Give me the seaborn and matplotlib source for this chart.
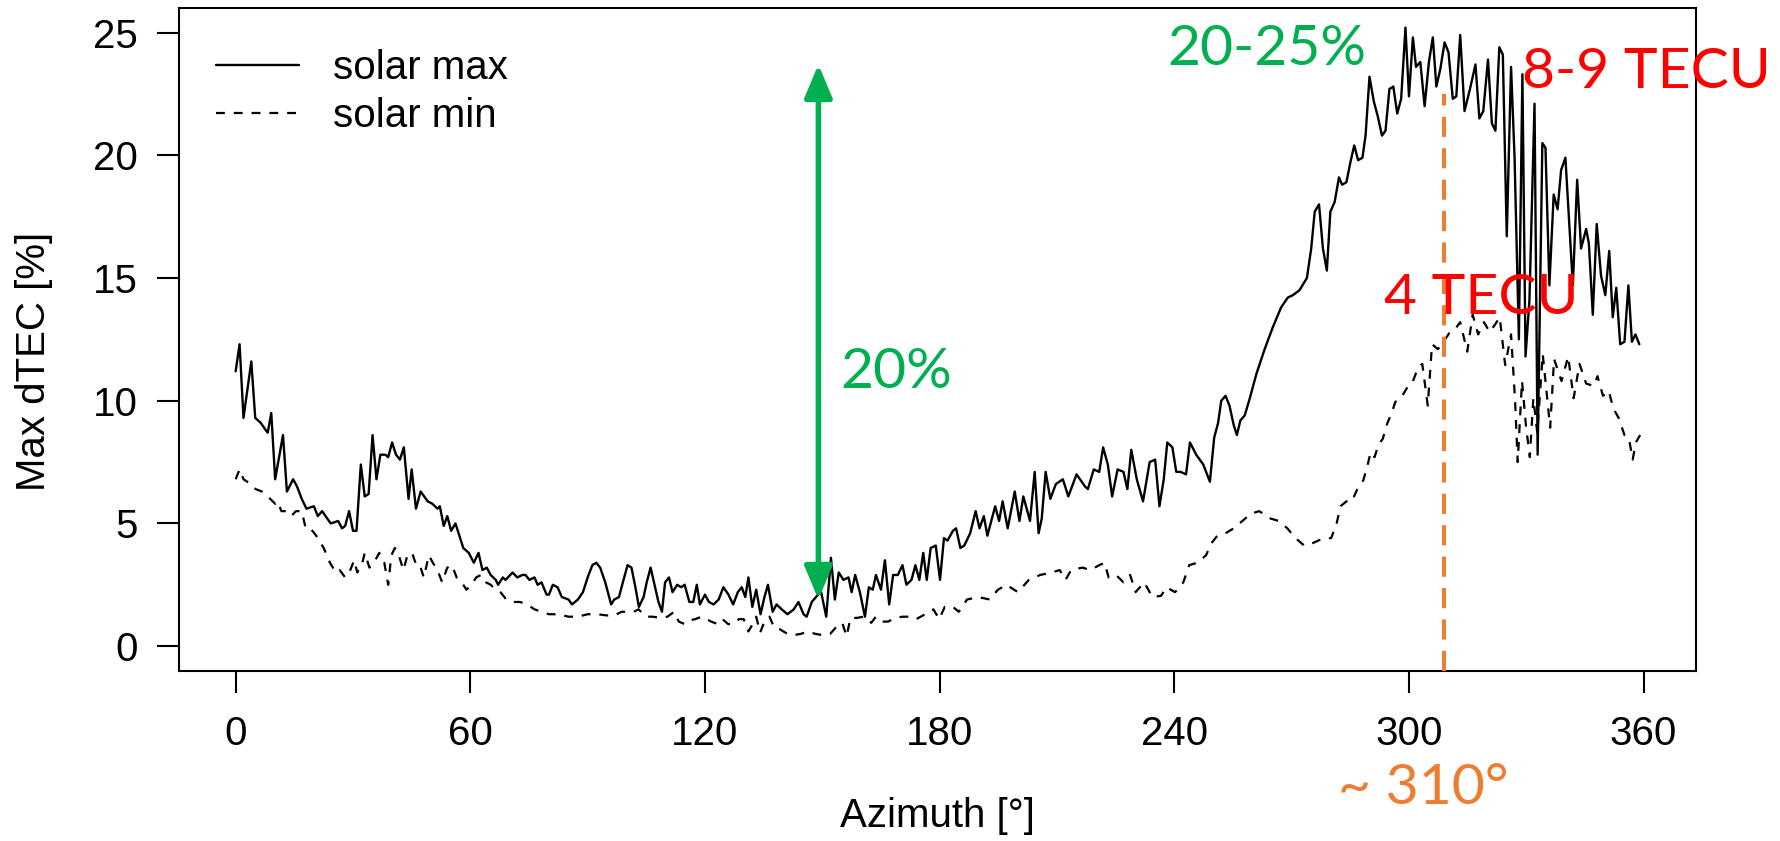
import matplotlib
matplotlib.use("Agg")
import matplotlib.pyplot as plt
import seaborn as sns

# values (azimuth in degrees, max dTEC in %)
azimuth_max = [0, 1, 2, 4, 5, 6.4, 7.7, 8.2, 9.1, 10.1, 12.1, 13.1, 14.7, 15.7, 16.9, 18.1, 20, 21, 22.1, 24.3,
               26.2, 27.2, 28, 29, 30, 30.9, 32, 33, 34, 35, 36, 37, 38.3, 39, 40, 41, 42, 43, 44.2, 45,
               46.1, 47.3, 49.1, 50.3, 51.6, 52.2, 53.2, 54.1, 55.1, 56.2, 58.2, 59.6, 60.9, 62.1, 63.1, 64.2, 65.2, 66.5, 67.1, 68.3,
               69, 70.8, 72, 73.3, 74.1, 75.1, 76.4, 77.2, 78.2, 79.5, 80.1, 81.1, 82.3, 83.4, 85.1, 86, 87.5, 88.8, 90, 91.2,
               92.2, 93.2, 94.5, 96, 96.8, 98, 99, 100.2, 101.2, 102.2, 103.1, 104.3, 105.1, 106.1, 107.1, 108.1, 109, 109.8, 110.8, 111.7,
               112.9, 113.9, 114.8, 116, 117, 117.9, 118.7, 120, 121, 122.2, 123.5, 124.7, 126, 127.2, 128.4, 129.4, 130.3, 131.1, 132.1, 133.1,
               134.2, 135.2, 136.1, 137.3, 138.3, 139.6, 141.1, 142.7, 143.9, 145.2, 146, 147.3, 148.9, 149.7, 151, 152.2, 153.2, 154.2, 155.4, 156.7,
               157.5, 158.4, 159.6, 160.9, 161.9, 162.9, 163.7, 165, 166, 167.1, 168.1, 169.3, 170.5, 171.5, 172.8, 173.8, 174.8, 175.8, 176.7, 177.7,
               179, 180.1, 181.1, 182, 183.4, 184.2, 185.3, 186.3, 187.8, 189.2, 190.2, 191.3, 192.2, 194.2, 195.2, 196.1, 197.4, 199.2, 200.4, 201.4,
               203.1, 204.3, 205.3, 206.1, 207.1, 208.3, 209.7, 211.5, 212.9, 215, 217.2, 217.9, 219.4, 220.8, 221.8, 223, 224.1, 225.5, 227, 228,
               229, 230.4, 232, 233.7, 235.1, 236.2, 237.3, 238.2, 239.5, 240.5, 241.6, 243, 244, 245.6, 247.4, 249.1, 250.2, 251.2, 252, 253.1,
               254.1, 255.2, 256, 256.9, 258, 259.3, 261, 263.1, 265.2, 267.3, 269, 270.3, 272, 273.9, 275, 275.9, 277, 278, 279, 279.9,
               281, 282.1, 282.9, 284, 285, 286, 287, 288.1, 288.9, 289.9, 291, 292, 293.1, 294, 295, 296, 297, 298, 299.1, 300,
               301, 301.8, 302.9, 304, 305.1, 306.1, 307, 308, 309.1, 310.1, 311.2, 312.1, 313.1, 314.2, 315.6, 317, 318, 319, 320.2, 321.2,
               322.1, 323.1, 324, 325, 326.1, 327, 328.1, 329, 329.8, 330.8, 332.1, 332.9, 334.1, 334.9, 335.9, 337, 338, 338.9, 340, 341.9,
               343, 344, 345.3, 346, 347, 348, 349.1, 350.2, 351.2, 352.1, 353, 354, 355.1, 356.1, 357, 357.9, 358.9]
dtec_max = [11.2, 12.3, 9.3, 11.6, 9.3, 9.1, 8.8, 8.7, 9.5, 6.8, 8.6, 6.3, 6.8, 6.5, 6.0, 5.6, 5.7, 5.3, 5.5, 5.0,
            5.1, 4.8, 4.9, 5.5, 4.7, 4.7, 7.4, 6.1, 6.2, 8.6, 6.8, 7.8, 7.8, 7.7, 8.3, 7.8, 7.6, 8.1, 6.0, 7.2,
            5.6, 6.3, 5.9, 5.8, 5.6, 5.7, 4.9, 5.3, 4.7, 5.0, 4.0, 3.8, 3.4, 3.8, 3.1, 3.2, 2.9, 2.7, 2.5, 2.8,
            2.7, 3.0, 2.8, 2.9, 2.9, 2.7, 2.8, 2.5, 2.6, 2.1, 2.1, 2.5, 2.4, 2.0, 1.9, 1.7, 1.9, 2.2, 2.8, 3.3,
            3.4, 3.2, 2.6, 1.7, 1.9, 2.0, 2.6, 3.3, 3.2, 2.4, 1.6, 2.0, 2.6, 3.2, 2.5, 1.8, 1.4, 2.6, 2.8, 2.2,
            2.5, 2.4, 2.5, 1.8, 1.8, 2.5, 1.7, 2.1, 1.8, 1.7, 1.9, 2.4, 2.1, 1.7, 2.2, 2.4, 2.0, 2.8, 1.6, 2.3,
            1.3, 2.0, 2.5, 1.4, 1.7, 1.5, 1.3, 1.5, 1.8, 1.3, 1.2, 1.8, 2.1, 2.2, 1.2, 3.6, 1.9, 3.0, 2.7, 2.8,
            2.2, 2.9, 2.2, 1.2, 2.4, 2.3, 2.9, 2.3, 3.5, 1.7, 2.9, 2.9, 3.3, 2.5, 2.7, 3.3, 2.7, 3.8, 2.7, 4.0,
            4.1, 2.7, 4.4, 4.3, 4.7, 4.8, 4.0, 4.1, 4.6, 5.5, 4.8, 5.3, 4.5, 5.7, 5.1, 5.9, 4.8, 6.3, 5.1, 6.1,
            5.1, 7.1, 4.6, 5.2, 7.1, 6.0, 6.6, 6.8, 6.1, 7.0, 6.5, 6.4, 7.2, 7.1, 8.1, 7.4, 6.1, 7.2, 7.1, 6.4,
            8.0, 6.8, 5.9, 7.5, 7.6, 5.7, 6.8, 8.3, 8.1, 7.1, 7.1, 7.0, 8.3, 7.8, 7.4, 6.7, 8.5, 9.1, 10.0, 10.2,
            9.8, 9.0, 8.6, 9.2, 9.4, 10.1, 11.1, 12.1, 13.0, 13.8, 14.2, 14.3, 14.5, 15.0, 16.2, 17.7, 18.0, 16.2, 15.3, 17.7,
            18.1, 19.1, 18.8, 18.9, 19.7, 20.4, 19.8, 19.9, 20.8, 23.2, 22.2, 21.6, 20.8, 21.0, 22.7, 22.8, 21.7, 22.3, 25.2, 22.4,
            24.8, 23.6, 23.8, 22.0, 23.8, 24.8, 22.8, 23.5, 24.6, 24.2, 22.3, 22.4, 24.9, 21.8, 22.7, 23.7, 21.5, 21.8, 23.9, 21.3,
            21.0, 24.4, 24.1, 16.7, 23.6, 19.9, 12.5, 23.3, 11.8, 14.1, 22.1, 7.8, 20.5, 20.3, 14.7, 18.4, 17.8, 19.4, 19.9, 14.7,
            19.0, 16.2, 17.0, 16.4, 13.5, 17.2, 15.1, 14.3, 16.1, 13.4, 14.6, 12.3, 12.4, 14.7, 12.4, 12.7, 12.3]

azimuth_min = [0, 1, 2, 3.9, 5.1, 6.7, 8.2, 10.1, 10.7, 11.7, 12.9, 14.2, 15.4, 16.9, 17.9, 19.1, 20.6, 22.5, 24.1, 25.6,
               26.6, 28, 29.3, 30.3, 31.1, 32.4, 33, 34.2, 35.7, 36.7, 38, 39, 39.8, 40.7, 41.7, 42.9, 43.9, 45.1, 46.4, 47.3,
               48.1, 49.4, 50.4, 51.6, 52.8, 54.1, 55.3, 56.5, 57.8, 59, 60.3, 61.5, 62.7, 64, 65.2, 66.5, 67.7, 69.2, 70.8, 72.7,
               74.5, 76.4, 78.2, 80.1, 82.6, 85.1, 87.5, 90, 92.5, 95, 96.8, 98.7, 99.9, 101.8, 103, 104.9, 106.7, 108.6, 110.4, 112.1,
               113.3, 114.8, 116, 117.5, 119.1, 120.4, 121.6, 123.2, 124.5, 125.9, 127.2, 128.7, 129.9, 131.1, 132.4, 133.1, 134.1, 135.2, 136.5, 137.7,
               139, 141.1, 142.7, 144.5, 146.4, 148.2, 150.1, 152, 153.4, 155.1, 156.2, 157.2, 158.8, 160.6, 162.5, 163.7, 165.3, 166.8, 168.7, 170.5,
               172.7, 174, 176.3, 178.4, 179.9, 181.3, 183.4, 184.9, 187, 189.9, 192.8, 194.9, 197.1, 200, 202.8, 205.7, 208.6, 210.7, 212.2, 213.6,
               216.5, 218.6, 220.8, 222.2, 223.2, 225.1, 227, 228.7, 230.1, 232.3, 234.4, 236.6, 238, 240.2, 242.3, 243.8, 245.9, 248.1, 249.5, 251,
               253.1, 255.2, 257.4, 259.6, 261.7, 264.6, 266.7, 268.9, 271, 273.2, 275.4, 278.2, 280.1, 281.5, 282.5, 284, 285.4, 286.8, 288.3, 289.3,
               290.2, 291.2, 292.2, 293.3, 294.5, 295.6, 296.5, 297.9, 299.8, 300.8, 302.2, 303.4, 304.8, 305.9, 307.4, 308.8, 310.3, 311.7, 313.1, 314.9,
               316.3, 317.7, 319.2, 320.6, 322, 323.2, 324.6, 326.1, 327.1, 327.8, 328.9, 329.9, 330.9, 331.8, 332.8, 334.2, 336.1, 337.1, 339, 340.7,
               342.1, 343.6, 345.3, 347.2, 348.2, 349.6, 351.1, 352.2, 353.6, 355.1, 356.2, 357.2, 358, 359.1]
dtec_min = [6.8, 7.2, 6.8, 6.6, 6.4, 6.3, 6.1, 5.8, 5.9, 5.5, 5.5, 5.3, 5.5, 5.5, 4.8, 4.8, 4.5, 4.0, 3.4, 3.0,
            3.1, 2.8, 3.1, 3.5, 3.0, 3.4, 3.8, 3.2, 3.5, 3.8, 3.4, 2.5, 3.7, 4.0, 3.7, 3.1, 3.7, 3.8, 3.2, 3.2,
            2.8, 3.7, 3.4, 3.1, 2.6, 3.2, 3.3, 2.8, 2.6, 2.3, 2.5, 2.8, 2.9, 2.6, 2.5, 2.3, 2.2, 1.9, 1.8, 1.8,
            1.7, 1.5, 1.4, 1.3, 1.3, 1.2, 1.2, 1.3, 1.3, 1.25, 1.25, 1.4, 1.4, 1.4, 1.5, 1.2, 1.2, 1.15, 1.2, 1.4,
            1.0, 0.9, 1.05, 1.1, 1.2, 1.1, 1.0, 0.9, 1.1, 0.9, 0.9, 1.1, 1.1, 0.6, 0.95, 1.2, 0.55, 1.0, 1.2, 0.75,
            0.7, 0.5, 0.45, 0.5, 0.6, 0.5, 0.45, 0.5, 0.75, 0.95, 0.4, 1.15, 1.15, 1.2, 0.95, 1.2, 1.0, 1.0, 1.15, 1.2,
            1.2, 1.1, 1.3, 1.5, 1.1, 1.6, 1.6, 1.4, 1.9, 2.0, 1.9, 2.3, 2.5, 2.2, 2.7, 2.9, 3.0, 3.1, 2.7, 3.1,
            3.2, 3.1, 3.3, 3.4, 2.8, 2.9, 2.6, 2.9, 2.2, 2.6, 2.0, 2.05, 2.4, 2.2, 2.6, 3.3, 3.4, 3.7, 4.2, 4.5,
            4.6, 4.8, 5.1, 5.4, 5.5, 5.2, 5.1, 4.8, 4.4, 4.1, 4.2, 4.4, 4.4, 5.0, 5.7, 5.9, 5.9, 6.4, 6.75, 7.3,
            7.9, 7.7, 8.2, 8.45, 9.1, 9.5, 9.95, 10.1, 10.6, 10.7, 11.3, 11.5, 9.8, 12.3, 12.1, 12.4, 12.75, 12.9, 13.2, 12.0,
            13.5, 12.7, 13.2, 12.8, 13.1, 13.4, 11.45, 12.7, 10.1, 7.5, 10.8, 9.0, 7.7, 10.1, 8.7, 11.9, 8.9, 11.7, 10.8, 11.8,
            10.1, 11.5, 10.7, 10.6, 11.0, 10.2, 10.4, 9.7, 9.3, 8.6, 8.5, 7.6, 8.3, 8.6]

assert len(azimuth_max) == len(dtec_max), (len(azimuth_max), len(dtec_max))
assert len(azimuth_min) == len(dtec_min), (len(azimuth_min), len(dtec_min))

x_ticks = [0, 60, 120, 180, 240, 300, 360]
y_ticks = [0, 5, 10, 15, 20, 25]

# annotation anchors (data units)
arrow_azimuth, arrow_low, arrow_high = 149, 1.9, 23.7
peak_azimuth, peak_top = 309, 22.5

GREEN, RED, ORANGE = "#00B050", "#FF0000", "#ED7D31"

sns.set_theme(style="ticks")
plt.rcParams["font.family"] = ["Liberation Sans", "DejaVu Sans"]
plt.rcParams["axes.edgecolor"] = "black"
plt.rcParams["axes.linewidth"] = 1.5
plt.rcParams["text.color"] = "black"
plt.rcParams["axes.labelcolor"] = "black"

fig = plt.figure(figsize=(17.81, 8.41), dpi=100)
ax = fig.add_axes([0.1007, 0.2025, 0.8516, 0.788])

sns.lineplot(x=azimuth_max, y=dtec_max, ax=ax, color="black", lw=1.7,
             estimator=None, sort=False, label="solar max")
sns.lineplot(x=azimuth_min, y=dtec_min, ax=ax, color="black", lw=1.6,
             linestyle=(0, (4, 4)), estimator=None, sort=False, label="solar min")

ax.set_xlim(-14.4, 373.4)
ax.set_ylim(-1, 26)
ax.set_xticks(x_ticks)
ax.set_yticks(y_ticks)
ax.tick_params(direction="out", length=15.8, width=1.5, labelsize=29, colors="black")
ax.tick_params(axis="x", pad=16)
ax.tick_params(axis="y", pad=14)

ax.set_xlabel("Azimuth [°]", fontsize=29, va="center")
ax.xaxis.set_label_coords(0.5, -0.219)
ax.set_ylabel("Max dTEC [%]", fontsize=29, va="center")
ax.yaxis.set_label_coords(-0.0958, 0.467)

leg = ax.legend(loc="upper left", bbox_to_anchor=(0.0136, 0.963), frameon=False, fontsize=29,
                handlelength=2.05, handletextpad=0.85, labelspacing=0.26, borderaxespad=0)
for t in leg.get_texts():
    t.set_color("black")

# overlaid annotations
ax.annotate("", xy=(arrow_azimuth, arrow_high), xytext=(arrow_azimuth, arrow_low),
            arrowprops=dict(arrowstyle="<|-|>,head_length=1.0,head_width=0.42", mutation_scale=20,
                            color=GREEN, lw=4, shrinkA=0, shrinkB=0), zorder=5)
ax.vlines(peak_azimuth, -1, peak_top, colors=ORANGE, lw=2.9, linestyles=(0, (5, 2.8)), zorder=4)

label_font = ["Lato", "DejaVu Sans"]
ax.text(154.7, 10.5, "20%", color=GREEN, fontsize=41, family=label_font, va="baseline", ha="left", zorder=6)
ax.text(238.3, 23.66, "20-25%", color=GREEN, fontsize=41, family=label_font, va="baseline", ha="left", zorder=6)
ax.text(328.8, 22.73, "8-9 TECU", color=RED, fontsize=41, family=label_font, va="baseline", ha="left", zorder=6)
ax.text(293.6, 13.52, "4 TECU", color=RED, fontsize=41, family=label_font, va="baseline", ha="left", zorder=6)
fig.text(0.751, 0.044, "~ 310°", color=ORANGE, fontsize=41, family=label_font, va="baseline", ha="left")

fig.savefig("out.png", dpi=100)
